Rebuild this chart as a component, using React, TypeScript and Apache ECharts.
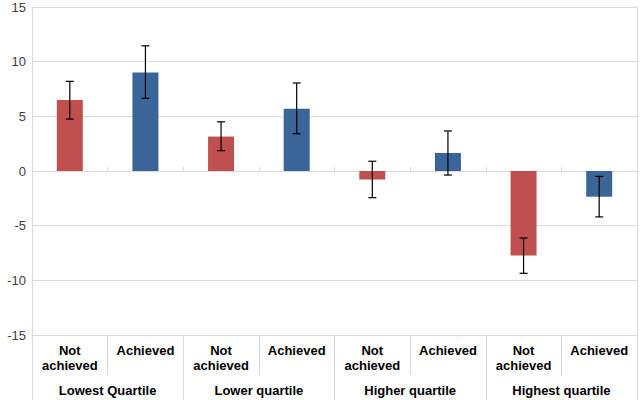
import React, { useEffect, useRef } from "react";
import * as echarts from "echarts";

const categories = ["Not\nachieved", "Achieved", "Not\nachieved", "Achieved", "Not\nachieved", "Achieved", "Not\nachieved", "Achieved"];
const groups = ["Lowest Quartile", "Lower quartile", "Higher quartile", "Highest quartile"];
const values = [6.5, 9.0, 3.15, 5.7, -0.78, 1.65, -7.72, -2.35];
const errLow = [4.75, 6.65, 1.86, 3.41, -2.44, -0.37, -9.36, -4.2];
const errHigh = [8.2, 11.45, 4.5, 8.05, 0.89, 3.66, -6.13, -0.49];
const barColors = ["#C0504D", "#3A6598"];
const yTicks = { min: -15, max: 15, interval: 5 };

export default function App() {
  const ref = useRef<HTMLDivElement>(null);
  useEffect(() => {
    if (!ref.current) return;
    const chart = echarts.init(ref.current, null, { renderer: "svg" });
    const grey = "#D9D9D9";
    const option = {
      animation: false,
      grid: { left: 32, right: 3, top: 7, bottom: 65 },
      xAxis: [
        {
          type: "category",
          data: categories,
          position: "bottom",
          axisLine: { onZero: false, lineStyle: { color: grey } },
          axisTick: { show: true, length: 40, lineStyle: { color: grey } },
          axisLabel: {
            interval: 0,
            margin: 8,
            color: "#000",
            fontWeight: "bold",
            fontSize: 13,
            lineHeight: 15,
            fontFamily: "Liberation Sans, Arial, sans-serif",
          },
        },
        {
          type: "category",
          data: groups,
          position: "bottom",
          axisLine: { show: false, onZero: false },
          axisTick: { show: true, length: 65, lineStyle: { color: grey } },
          axisLabel: {
            interval: 0,
            margin: 49,
            color: "#000",
            fontWeight: "bold",
            fontSize: 13,
            fontFamily: "Liberation Sans, Arial, sans-serif",
          },
        },
        {
          type: "category",
          data: categories,
          axisLine: { show: true, onZero: true, lineStyle: { color: grey } },
          axisTick: { show: true, length: 4, lineStyle: { color: grey } },
          axisLabel: { show: false },
        },
      ],
      yAxis: [
        {
          type: "value",
          min: yTicks.min,
          max: yTicks.max,
          interval: yTicks.interval,
          axisLine: { show: true, lineStyle: { color: grey } },
          axisTick: { show: false },
          splitLine: { show: true, lineStyle: { color: grey } },
          axisLabel: {
            color: "#404040",
            fontSize: 13,
            margin: 6,
            fontFamily: "Liberation Sans, Arial, sans-serif",
          },
        },
        {
          type: "value",
          position: "right",
          min: yTicks.min,
          max: yTicks.max,
          interval: yTicks.interval,
          axisLine: { show: true, lineStyle: { color: grey } },
          axisTick: { show: false },
          splitLine: { show: false },
          axisLabel: { show: false },
        },
      ],
      series: [
        {
          type: "bar",
          xAxisIndex: 0,
          yAxisIndex: 0,
          barWidth: 26,
          data: values.map((v, i) => ({ value: v, itemStyle: { color: barColors[i % 2] } })),
        },
        {
          type: "custom",
          xAxisIndex: 0,
          yAxisIndex: 0,
          data: values.map((_, i) => [i, errLow[i], errHigh[i]]),
          renderItem: (params: any, api: any) => {
            const x = api.value(0);
            const lo = api.coord([x, api.value(1)]);
            const hi = api.coord([x, api.value(2)]);
            const half = 4;
            const style = { stroke: "#000", lineWidth: 1.2 };
            return {
              type: "group",
              children: [
                { type: "line", shape: { x1: hi[0], y1: hi[1], x2: lo[0], y2: lo[1] }, style },
                { type: "line", shape: { x1: hi[0] - half, y1: hi[1], x2: hi[0] + half, y2: hi[1] }, style },
                { type: "line", shape: { x1: lo[0] - half, y1: lo[1], x2: lo[0] + half, y2: lo[1] }, style },
              ],
            };
          },
          z: 10,
        },
      ],
    };
    chart.setOption(option as any);
    return () => chart.dispose();
  }, []);
  return <div ref={ref} style={{ width: 640, height: 400, position: "absolute", left: 0, top: 0, background: "#fff" }} />;
}
